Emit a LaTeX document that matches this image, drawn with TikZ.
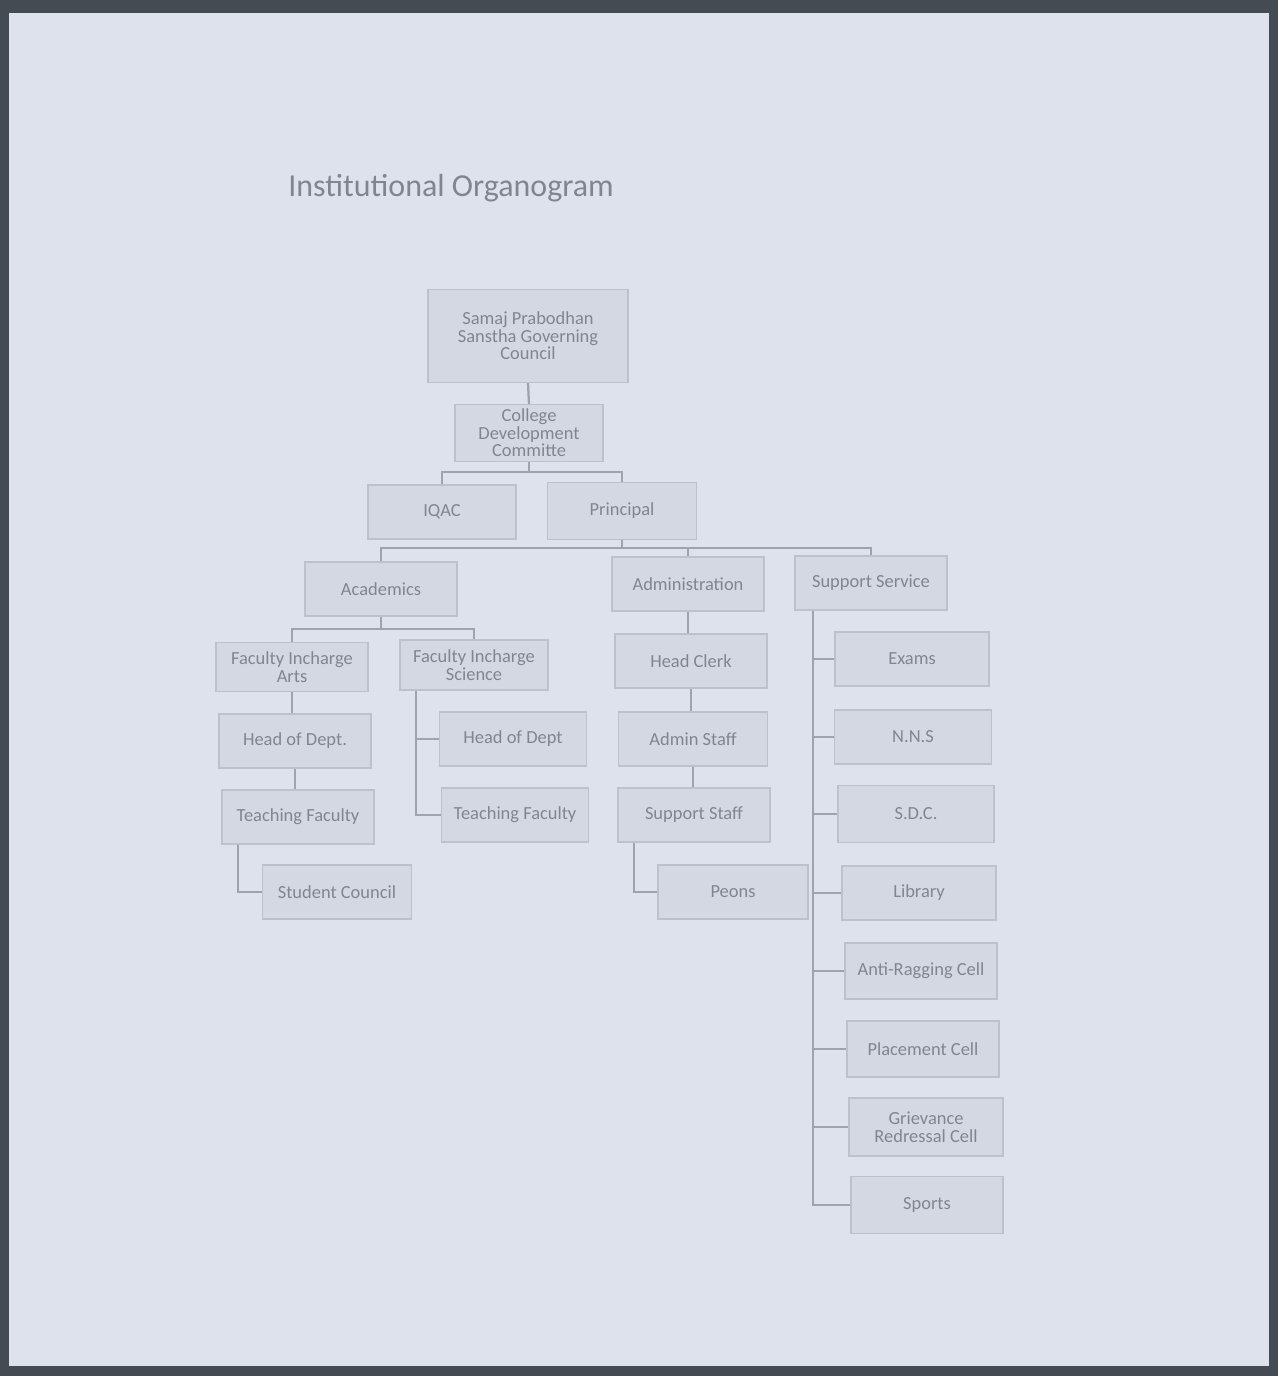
\documentclass[tikz,border=0pt]{standalone}
\usepackage{fontspec}
\setmainfont{Carlito}
\usetikzlibrary{arrows.meta, positioning}

\definecolor{frame}{HTML}{454B53}
\definecolor{paper}{HTML}{DEE2EC}
\definecolor{boxfill}{HTML}{D4D8E2}
\definecolor{boxline}{HTML}{BCC1CB}
\definecolor{ink}{HTML}{80868F}
\definecolor{linkgray}{HTML}{9EA3AD}

\begin{document}
\begin{tikzpicture}[
    x=0.02cm, y=-0.02cm,
    box/.style={rectangle, draw=boxline, fill=boxfill, line width=0.8pt, minimum width=3.04cm, minimum height=1.08cm, align=center, text=ink, inner sep=1pt, font=\fontsize{10.5}{10}\selectfont},
    link/.style={draw=linkgray, line width=1.3pt}
  ]
    \useasboundingbox (0,0) rectangle (1278,1376);
    \fill[frame] (0,0) rectangle (1278,1376);
    \fill[paper] (9,13) rectangle (1269,1366);

    \node[anchor=west, text=ink, inner sep=0pt, font=\fontsize{18.2}{21}\selectfont] (title) at (288,188) {Institutional Organogram};

    % top of the tree
    \node[box, minimum width=4cm, minimum height=1.86cm] (council) at (528,336) {Samaj Prabodhan\\Sanstha Governing\\Council};
    \node[box, minimum width=2.96cm, minimum height=1.14cm] (cdc) at (529,433) {College\\Development\\Committe};
    \node[box, minimum width=2.96cm] (iqac) at (442,512) {IQAC};
    \node[box, minimum width=2.98cm, minimum height=1.14cm] (principal) at (622,511) {Principal};

    \node[box] (acad) at (381,589) {Academics};
    \node[box] (admin) at (688,584) {Administration};
    \node[box] (supp) at (871,583) {Support Service};

    % academics
    \node[box, minimum height=0.98cm] (fiarts) at (292,667) {Faculty Incharge\\Arts};
    \node[box, minimum width=2.96cm, minimum height=1cm] (fisci) at (474,665) {Faculty Incharge\\Science};
    \node[box] (hodarts) at (295,741) {Head of Dept.};
    \node[box] (tfarts) at (298,817) {Teaching Faculty};
    \node[box, minimum width=2.98cm] (stcouncil) at (337,892) {Student Council};
    \node[box, minimum width=2.94cm] (hodsci) at (513,739) {Head of Dept};
    \node[box, minimum width=2.94cm] (tfsci) at (515,815) {Teaching Faculty};

    % administration
    \node[box] (hclerk) at (691,661) {Head Clerk};
    \node[box, minimum width=2.98cm] (astaff) at (693,739) {Admin Staff};
    \node[box] (sstaff) at (694,815) {Support Staff};
    \node[box, minimum width=3.0cm] (peons) at (733,892) {Peons};

    % support service
    \node[box, minimum width=3.08cm] (exams) at (912,659) {Exams};
    \node[box, minimum width=3.14cm] (nns) at (913,737) {N.N.S};
    \node[box, minimum width=3.12cm, minimum height=1.14cm] (sdc) at (916,814) {S.D.C.};
    \node[box, minimum width=3.08cm] (library) at (919,893) {Library};
    \node[box, minimum height=1.12cm] (antirag) at (921,971) {Anti-Ragging Cell};
    \node[box, minimum height=1.12cm] (placement) at (923,1049) {Placement Cell};
    \node[box, minimum width=3.08cm, minimum height=1.16cm] (grievance) at (926,1127) {Grievance\\Redressal Cell};
    \node[box, minimum height=1.14cm] (sports) at (927,1205) {Sports};

    \draw[link] (council.south) -- (cdc.north);
    \draw[link] (cdc.south) -- ++(0,10) coordinate (cdcbar);
    \draw[link] (iqac.north) |- (cdcbar) -| (principal.north);

    \draw[link] (principal.south) -- ++(0,8) coordinate (pbar);
    \draw[link] (acad.north) |- (pbar) -| (supp.north);
    \draw[link] (pbar) -| (admin.north);

    \draw[link] (acad.south) -- ++(0,12) coordinate (abar);
    \draw[link] (fiarts.north) |- (abar) -| (fisci.north);
    \draw[link] (fiarts.south) -- (fiarts.south |- hodarts.north);
    \draw[link] (hodarts.south) -- (hodarts.south |- tfarts.north);
    \draw[link] ([xshift=-1.2cm]tfarts.south) |- (stcouncil.west);
    \draw[link] ([xshift=-1.16cm]fisci.south) |- (hodsci.west);
    \draw[link] ([xshift=-1.16cm]fisci.south) |- (tfsci.west);

    \draw[link] (admin.south) -- (admin.south |- hclerk.north);
    \draw[link] (hclerk.south) -- (hclerk.south |- astaff.north);
    \draw[link] (astaff.south) -- (astaff.south |- sstaff.north);
    \draw[link] ([xshift=-1.2cm]sstaff.south) |- (peons.west);

    \foreach \n in {exams,nns,sdc,library,antirag,placement,grievance,sports}
      \draw[link] ([xshift=-1.16cm]supp.south) |- (\n.west);
  \end{tikzpicture}
\end{document}
